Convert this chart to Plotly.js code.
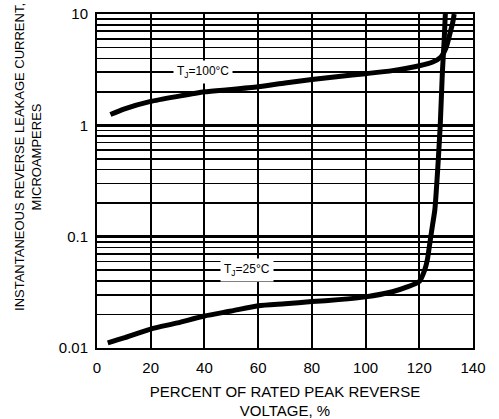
<!DOCTYPE html>
<html>
<head>
<meta charset="utf-8">
<script src="https://cdn.plot.ly/plotly-3.0.1.min.js"></script>
<style>html,body{margin:0;padding:0;background:#fff;}#chart{width:499px;height:419px;}</style>
</head>
<body>
<div id="chart"></div>
<script>
// Tj = 100°C curve
const x100 = [5, 10, 20, 30, 40, 50, 60, 70, 80, 90, 100, 110, 120, 125, 128, 130, 131.5, 132.5, 133];
const y100 = [1.25, 1.4, 1.64, 1.82, 2.0, 2.1, 2.22, 2.4, 2.58, 2.75, 2.91, 3.1, 3.43, 3.7, 4.1, 5, 6.8, 8.5, 10];
// Tj = 25°C curve
const x25 = [4, 10, 20, 30, 40, 50, 60, 70, 80, 90, 100, 110, 115, 120, 122, 123, 124, 125, 125.8, 126.85, 127.8, 128.6, 129.3, 129.7];
const y25 = [0.0111, 0.0123, 0.0148, 0.0168, 0.0194, 0.0215, 0.024, 0.025, 0.0261, 0.0272, 0.0288, 0.032, 0.035, 0.0396, 0.05, 0.062, 0.09, 0.13, 0.175, 0.4, 1, 3, 6, 10];
const xTicks = [0, 20, 40, 60, 80, 100, 120, 140];
const yTicks = [0.01, 0.1, 1, 10];
const yTickText = ["0.01", "0.1", "1", "10"];
const yMinor = [0.02,0.03,0.04,0.05,0.06,0.07,0.08,0.09,0.2,0.3,0.4,0.5,0.6,0.7,0.8,0.9,2,3,4,5,6,7,8,9];
const label100 = "T<sub>J</sub>=100°C";
const label25 = "T<sub>J</sub>=25°C";
const xTitle = "PERCENT OF RATED PEAK REVERSE<br>VOLTAGE, %";
const yTitle = "INSTANTANEOUS REVERSE LEAKAGE CURRENT,<br>MICROAMPERES";

const font = "Liberation Sans, Arial, Helvetica, sans-serif";
const traces = [
  {x: x100, y: y100, mode: "lines", line: {color: "#000", width: 5, shape: "spline", smoothing: 0.6}, hoverinfo: "skip"},
  {x: x25, y: y25, mode: "lines", line: {color: "#000", width: 5, shape: "spline", smoothing: 0.6}, hoverinfo: "skip"}
];
const layout = {
  width: 499, height: 419,
  margin: {l: 97, r: 26, t: 14, b: 71},
  paper_bgcolor: "#fff", plot_bgcolor: "#fff",
  showlegend: false,
  font: {family: font, color: "#000", size: 15},
  xaxis: {
    range: [0, 140], tickvals: xTicks, ticks: "", showgrid: true, gridcolor: "#000", gridwidth: 2,
    zeroline: false, showline: true, linecolor: "#000", linewidth: 2, mirror: true,
    tickfont: {size: 15}, ticklabelstandoff: 5,
    title: {text: xTitle, font: {size: 15}, standoff: 12}
  },
  yaxis: {
    type: "log", range: [-2, 1], tickvals: yTicks, ticktext: yTickText, ticks: "",
    showgrid: true, gridcolor: "#000", gridwidth: 2.5,
    minor: {tickvals: yMinor, showgrid: true, gridcolor: "#000", gridwidth: 1.6, ticks: ""},
    zeroline: false, showline: true, linecolor: "#000", linewidth: 2, mirror: true,
    tickfont: {size: 15}, ticklabelstandoff: 4
  },
  annotations: [
    {x: 39.5, y: Math.log10(3), xref: "x", yref: "y", text: label100, showarrow: false, bgcolor: "#fff", borderpad: 3, font: {size: 12}},
    {x: 56, y: Math.log10(0.05), xref: "x", yref: "y", text: label25, showarrow: false, bgcolor: "#fff", borderpad: 3, font: {size: 12}},
    {x: -0.1835, y: 0.572, xref: "paper", yref: "paper", text: yTitle, textangle: -90, showarrow: false, xanchor: "center", yanchor: "middle", font: {size: 13}}
  ]
};
Plotly.newPlot("chart", traces, layout, {staticPlot: true, displayModeBar: false});
</script>
</body>
</html>
